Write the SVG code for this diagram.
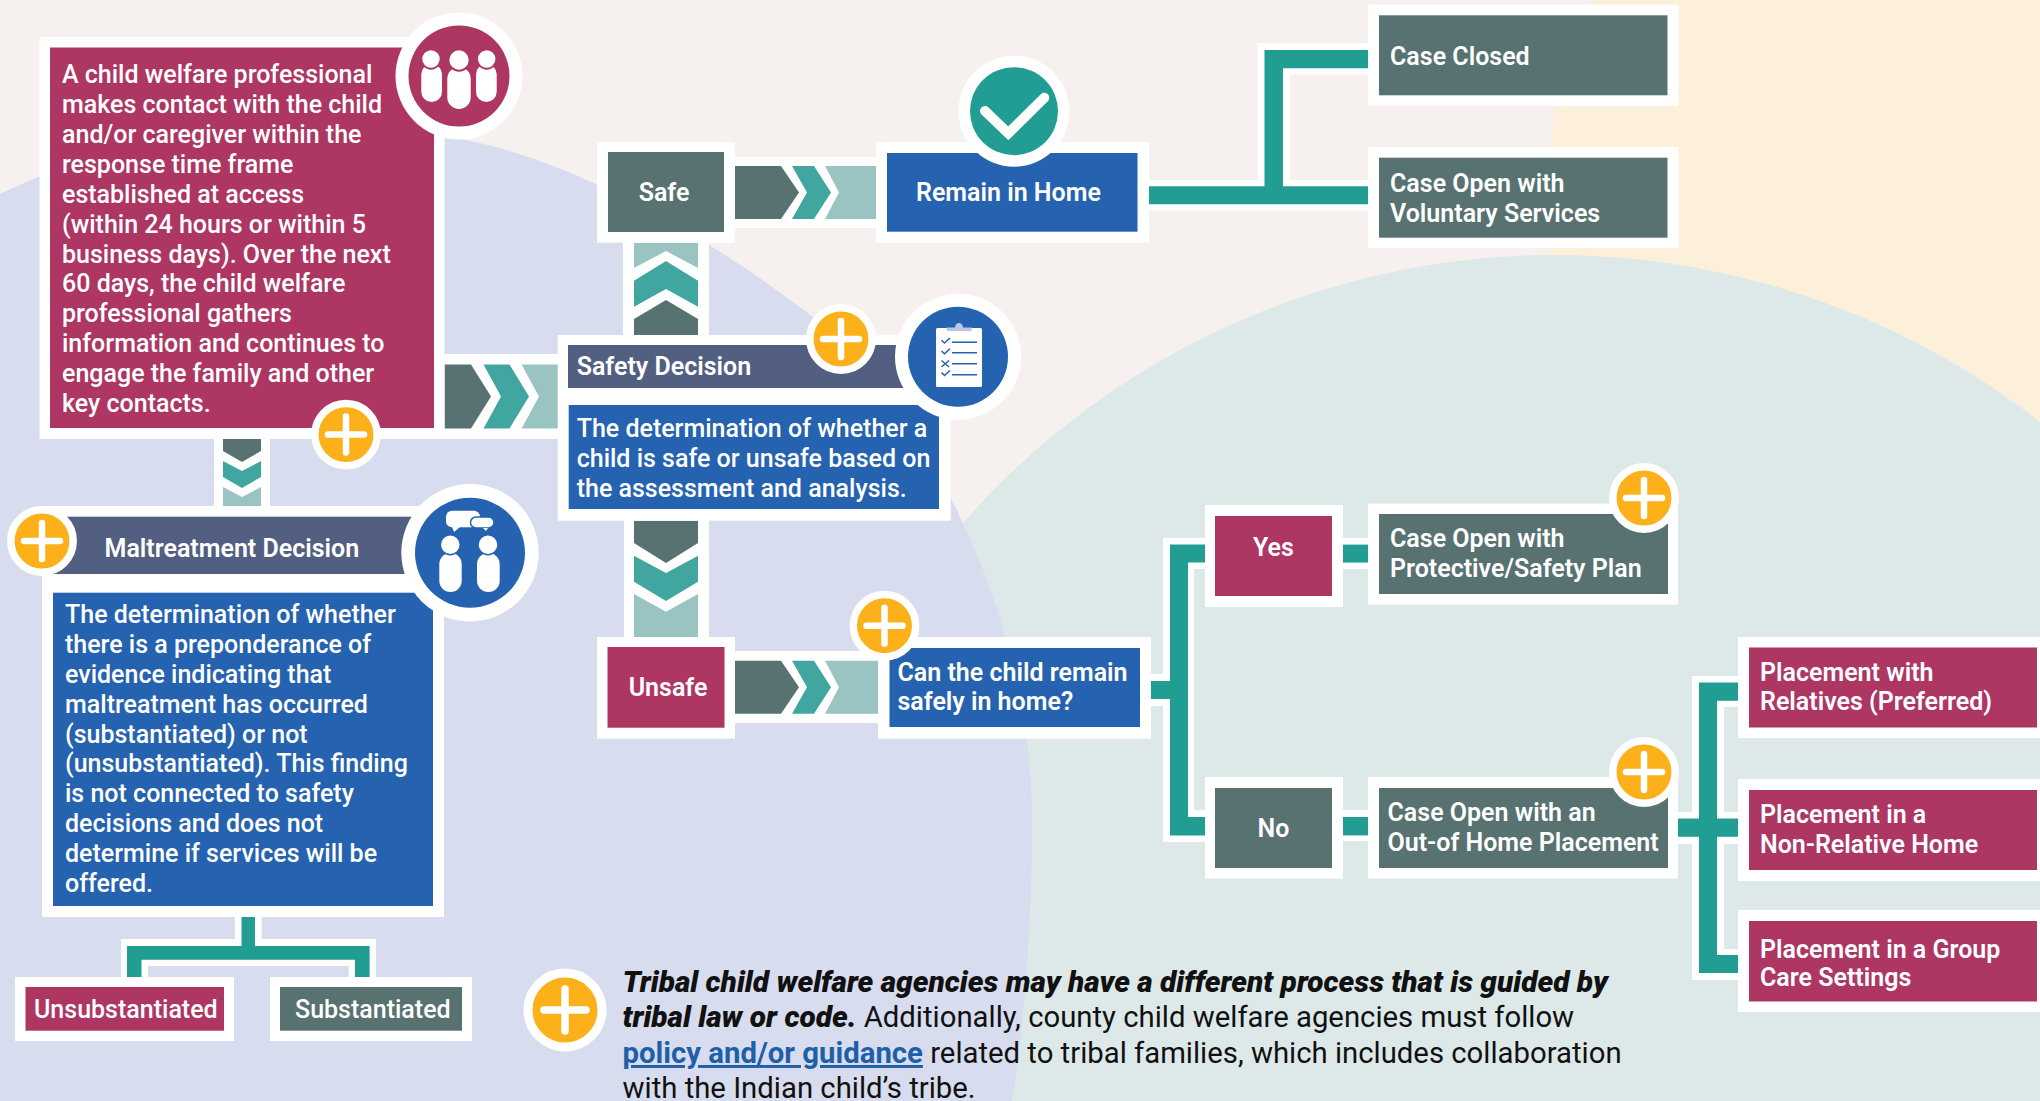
<svg xmlns="http://www.w3.org/2000/svg" width="2040" height="1101" viewBox="0 0 2040 1101">
<style>
text{font-family:Roboto,"Liberation Sans",sans-serif;font-weight:500;fill:#fff;font-size:25px}
.b{font-weight:600}
.w{fill:#fff}.pk{fill:#ae3662}.sl{fill:#587271}.bl{fill:#2563b0}.hd{fill:#525f80}.tb{fill:#219d94}.tc{fill:#42a6a0}.lt{fill:#9ac4c2}
.plus{fill:#fcb01a;stroke:#fff;stroke-width:7.5}
.cross{stroke:#fff;stroke-width:6.5;stroke-linecap:round;fill:none}
.lg text{fill:#111;font-size:29.3px;font-weight:400}
.lg .hv{font-weight:900;font-style:italic;font-size:29.8px}
.lg .lnk{font-weight:700;fill:#1e5fa8;text-decoration:underline}
</style>
<defs>
<g id="plusIcon"><circle class="plus" r="31.2"/><path class="cross" d="M-18 0H18M0-18V18"/></g>
<g id="hchev">
<path class="sl" d="M0 0H46L64 26.500 46 53H0Z"/>
<path class="tc" d="M57 0H79L96 26.500 79 53H57L72 26.500Z"/>
<path class="lt" d="M90 0H143V53H90L104 26.500Z"/>
</g>
</defs>
<g id="background">
<rect width="2040" height="1101" fill="#f6f0ef"/>
<path d="M1594 0C1570 50 1552 110 1550 150V600H2040V0Z" fill="#fdf0da"/>
<circle cx="1555" cy="1043" r="788" fill="#dde9e8"/>
<rect x="1000" y="1000" width="1040" height="101" fill="#dde9e8"/>
<path d="M0 194C130 130 300 115 444 136C560 153 700 230 813 317C930 415 1032 620 1032 820C1032 920 1025 1020 1012 1101H0Z" fill="#d8dcef"/>
</g>
<g id="connectors">
<rect class="w" x="214" y="439" width="56" height="67"/>
<path class="sl" d="M223 439H261V451L242 462 223 451Z"/>
<path class="tc" d="M223 461L242 471 261 461V477L242 488 223 477Z"/>
<path class="lt" d="M223 487L242 497 261 487V506H223Z"/>
<rect class="w" x="444" y="354" width="114" height="85"/>
<path class="sl" d="M444.500 364.600H471L491 396.600 471 428.500H444.500Z"/>
<path class="tc" d="M483.500 364.600H509.500L529 396.600 509.500 428.500H483.500L501 396.600Z"/>
<path class="lt" d="M521.600 364.600H558V428.500H521.600L539 396.600Z"/>
<rect class="w" x="623" y="242" width="86" height="94"/>
<path class="lt" d="M634 242.700H698V268L666 251 634 268Z"/>
<path class="tc" d="M634 280.700L666 261 698 280.700V306.700L666 289 634 306.700Z"/>
<path class="sl" d="M634 319L666 300 698 319V335H634Z"/>
<rect class="w" x="735" y="157" width="142" height="71"/>
<use href="#hchev" x="735" y="166"/>
<rect class="w" x="624" y="520" width="85" height="118"/>
<path class="sl" d="M634 520.700H698V543L666 563 634 543Z"/>
<path class="tc" d="M634 555.700L666 573 698 555.700V581.700L666 601 634 581.700Z"/>
<path class="lt" d="M634 594L666 611.700 698 594V637H634Z"/>
<rect class="w" x="735" y="651" width="144" height="72"/>
<use href="#hchev" x="735" y="660.700"/>
<path class="w" d="M1149 180H1257.700V43.300H1368V74.700H1290V180H1368V210.700H1149Z"/>
<path class="tb" d="M1149 186.300H1264.500V50H1368V68.300H1283V186.300H1368V204.300H1149Z"/>
<path class="w" d="M1151 674H1163V538H1205V569H1194V810H1205V842H1163V706H1151Z"/>
<path class="tb" d="M1151 681H1170V544.600H1205V562.500H1188V817H1205V835.400H1170V699H1151Z"/>
<rect class="w" x="1343" y="538" width="25" height="31"/>
<rect class="tb" x="1343" y="544.600" width="25" height="18"/>
<rect class="w" x="1343" y="810" width="25" height="31"/>
<rect class="tb" x="1343" y="817" width="25" height="18.400"/>
<path class="w" d="M1678 812H1692V676H1738V707H1724V812H1738V844H1724V949H1738V980H1692V844H1678Z"/>
<path class="tb" d="M1678 818.600H1699V682.500H1738V700.700H1717V818.600H1738V836.800H1717V955H1738V973H1699V836.800H1678Z"/>
<path class="w" d="M235 917H261.600V939H376V977H348.700V966H148V977H121V939H235Z"/>
<path class="tb" d="M241.500 917H255V946H369.600V977H355V959.700H141.500V977H127V946H241.500Z"/>
</g>
<g id="intake">
<rect class="w" x="39.500" y="37" width="405" height="402"/>
<rect class="pk" x="50" y="47.500" width="384" height="380.500"/>
<circle cx="459" cy="76" r="63.500" class="w"/><circle cx="459" cy="76" r="50.500" class="pk"/>
<g class="w">
<rect x="421.300" y="64" width="20.700" height="38" rx="10.300"/><rect x="447.300" y="67" width="23.400" height="42" rx="11.700"/><rect x="476" y="64" width="20.700" height="38" rx="10.300"/>
</g>
<g class="w" stroke="#ae3662" stroke-width="2"><circle cx="431" cy="59" r="9.700"/><circle cx="459" cy="60" r="10.700"/><circle cx="486.700" cy="59" r="9.700"/></g>
<text x="62" y="83">A child welfare professional</text>
<text x="62" y="113">makes contact with the child</text>
<text x="62" y="143">and/or caregiver within the</text>
<text x="62" y="173">response time frame</text>
<text x="62" y="202.500">established at access</text>
<text x="62" y="232.500">(within 24 hours or within 5</text>
<text x="62" y="262.500">business days). Over the next</text>
<text x="62" y="292">60 days, the child welfare</text>
<text x="62" y="322">professional gathers</text>
<text x="62" y="352">information and continues to</text>
<text x="62" y="382">engage the family and other</text>
<text x="62" y="411.500">key contacts.</text>
<use href="#plusIcon" x="346" y="434.600"/>
</g>
<g id="maltreatment">
<rect class="w" x="42" y="506" width="402" height="411"/>
<rect class="hd" x="42" y="516.700" width="380" height="57.300"/>
<rect class="bl" x="53" y="592.700" width="380" height="313.300"/>
<circle cx="470" cy="552.700" r="68.700" class="w"/><circle cx="470" cy="552.700" r="55" class="bl"/>
<use href="#plusIcon" x="42" y="541"/>
<g class="w">
<rect x="439.300" y="553" width="22.400" height="39" rx="11.200"/><rect x="477" y="553" width="22.700" height="39" rx="11.300"/>
</g>
<g class="w" stroke="#2563b0" stroke-width="1.500"><circle cx="450.300" cy="544.700" r="10"/><circle cx="488" cy="544.700" r="10"/></g>
<g class="w"><path d="M452 527L454 532 460 527Z"/><rect x="446" y="510.700" width="34" height="16.500" rx="6"/></g>
<g class="w" stroke="#2563b0" stroke-width="1.500"><rect x="470.500" y="517" width="23.500" height="11" rx="5.500"/></g>
<path class="w" d="M483 528L486 531 488 528Z"/>
<text class="b" x="104.500" y="556.500">Maltreatment Decision</text>
<text x="65" y="622.500">The determination of whether</text>
<text x="65" y="652.500">there is a preponderance of</text>
<text x="65" y="682.500">evidence indicating that</text>
<text x="65" y="712.500">maltreatment has occurred</text>
<text x="65" y="742.500">(substantiated) or not</text>
<text x="65" y="772">(unsubstantiated). This finding</text>
<text x="65" y="802">is not connected to safety</text>
<text x="65" y="832">decisions and does not</text>
<text x="65" y="862">determine if services will be</text>
<text x="65" y="891.500">offered.</text>
</g>
<g id="unsubstantiated"><rect class="w" x="15" y="977" width="219" height="64"/><rect class="pk" x="25.500" y="987" width="198.500" height="43.700"/><text x="34" y="1018">Unsubstantiated</text></g>
<g id="substantiated"><rect class="w" x="270" y="977" width="202" height="64"/><rect class="sl" x="280" y="987" width="182" height="43.700"/><text x="295" y="1018">Substantiated</text></g>
<g id="safe"><rect class="w" x="597" y="142" width="138" height="100.700"/><rect class="sl" x="608" y="152" width="116" height="80"/><text class="b" x="664" y="201" text-anchor="middle">Safe</text></g>
<g id="remain">
<rect class="w" x="876" y="142" width="273" height="100.700"/><rect class="bl" x="887" y="153" width="250.500" height="78.700"/>
<circle cx="1014" cy="111.200" r="55.500" class="w"/><circle cx="1014" cy="111.200" r="44" fill="#219d94"/>
<path d="M985 111L1008.300 133.300 1044.300 97.700" fill="none" stroke="#fff" stroke-width="10" stroke-linecap="round"/>
<text class="b" x="916" y="201">Remain in Home</text>
</g>
<g id="safety">
<rect class="w" x="557.700" y="335" width="393" height="185.700"/>
<rect class="hd" x="568" y="345" width="340" height="43"/>
<rect class="bl" x="568.700" y="405" width="370.300" height="104"/>
<circle cx="958" cy="356.700" r="63" class="w"/><circle cx="958" cy="356.700" r="50" class="bl"/>
<rect class="w" x="936" y="328" width="46" height="59" rx="1.500"/>
<path d="M946.700 331V327.500H955A4 4.500 0 0 1 963 327.500H971.700V331Z" fill="#bcc5e3"/>
<path d="M952 342.300H977M952 352.700H977M952 363.700H977M952 374.700H977M941.500 340.300L944.500 343 950 338M941.500 351L944.500 353.700 950 348.700M941.500 360.500L949 367M949 360.500L941.500 367M941.500 372.500L944.500 375.500 950 370.500" fill="none" stroke="#2563b0" stroke-width="1.500"/>
<use href="#plusIcon" x="841" y="339"/>
<text class="b" x="576.700" y="374.500">Safety Decision</text>
<text x="576.700" y="436.700">The determination of whether a</text>
<text x="576.700" y="466.700">child is safe or unsafe based on</text>
<text x="576.700" y="496.700">the assessment and analysis.</text>
</g>
<g id="unsafe"><rect class="w" x="597" y="637" width="138" height="101.700"/><rect class="pk" x="607.500" y="647" width="117" height="80.700"/><text class="b" x="668" y="695.500" text-anchor="middle">Unsafe</text></g>
<g id="question">
<rect class="w" x="878" y="637" width="273" height="101.700"/><rect class="bl" x="889.500" y="648" width="250.500" height="79"/>
<use href="#plusIcon" x="884.500" y="625.700"/>
<text class="b" x="897.500" y="680.500">Can the child remain</text><text class="b" x="897.500" y="710">safely in home?</text>
</g>
<g id="case-closed"><rect class="w" x="1368" y="4.700" width="310.600" height="101"/><rect class="sl" x="1379" y="15.300" width="288.500" height="80"/><text class="b" x="1390" y="64.500">Case Closed</text></g>
<g id="case-voluntary"><rect class="w" x="1368" y="147" width="310.600" height="101"/><rect class="sl" x="1379" y="157.700" width="288.500" height="80"/><text class="b" x="1390" y="191.500">Case Open with</text><text class="b" x="1390" y="221.500">Voluntary Services</text></g>
<g id="yes"><rect class="w" x="1205" y="505" width="138" height="102"/><rect class="pk" x="1215" y="516" width="117" height="80"/><text class="b" x="1273.500" y="555.500" text-anchor="middle">Yes</text></g>
<g id="no"><rect class="w" x="1205" y="777" width="138" height="101.600"/><rect class="sl" x="1215" y="788" width="117" height="80"/><text class="b" x="1273.500" y="836.500" text-anchor="middle">No</text></g>
<g id="case-protective">
<rect class="w" x="1368" y="503.600" width="310" height="101"/><rect class="sl" x="1379" y="514" width="289" height="80"/>
<use href="#plusIcon" x="1644" y="498"/>
<text class="b" x="1390" y="546.500">Case Open with</text><text class="b" x="1390" y="576.500">Protective/Safety Plan</text>
</g>
<g id="case-placement">
<rect class="w" x="1368" y="777" width="310" height="101.600"/><rect class="sl" x="1379" y="788" width="289" height="80"/>
<use href="#plusIcon" x="1644" y="772"/>
<text class="b" x="1387.500" y="820.500">Case Open with an</text><text class="b" x="1387.500" y="850.500">Out-of Home Placement</text>
</g>
<g id="placement-relatives"><rect class="w" x="1738" y="637" width="302" height="101"/><rect class="pk" x="1749" y="647.500" width="288" height="80"/><text class="b" x="1760" y="680.500">Placement with</text><text class="b" x="1760" y="710">Relatives (Preferred)</text></g>
<g id="placement-nonrelative"><rect class="w" x="1738" y="779" width="302" height="102"/><rect class="pk" x="1749" y="790" width="288" height="80"/><text class="b" x="1760" y="822.500">Placement in a</text><text class="b" x="1760" y="852.500">Non-Relative Home</text></g>
<g id="placement-group"><rect class="w" x="1738" y="910" width="302" height="102"/><rect class="pk" x="1749" y="921" width="288" height="80.500"/><text class="b" x="1760" y="957.500">Placement in a Group</text><text class="b" x="1760" y="986">Care Settings</text></g>
<g id="legend" class="lg">
<circle cx="565" cy="1010" r="37" fill="#fcb01a" stroke="#fff" stroke-width="9"/>
<path d="M544 1010H586M565 989V1031" stroke="#fff" stroke-width="7.500" stroke-linecap="round" fill="none"/>
<text x="622.500" y="991.700" class="hv">Tribal child welfare agencies may have a different process that is guided by</text>
<text x="622.500" y="1026.700"><tspan class="hv">tribal law or code.</tspan> Additionally, county child welfare agencies must follow</text>
<text x="622.500" y="1063"><tspan class="lnk">policy and/or guidance</tspan> related to tribal families, which includes collaboration</text>
<text x="622.500" y="1098">with the Indian child’s tribe.</text>
</g>
</svg>
